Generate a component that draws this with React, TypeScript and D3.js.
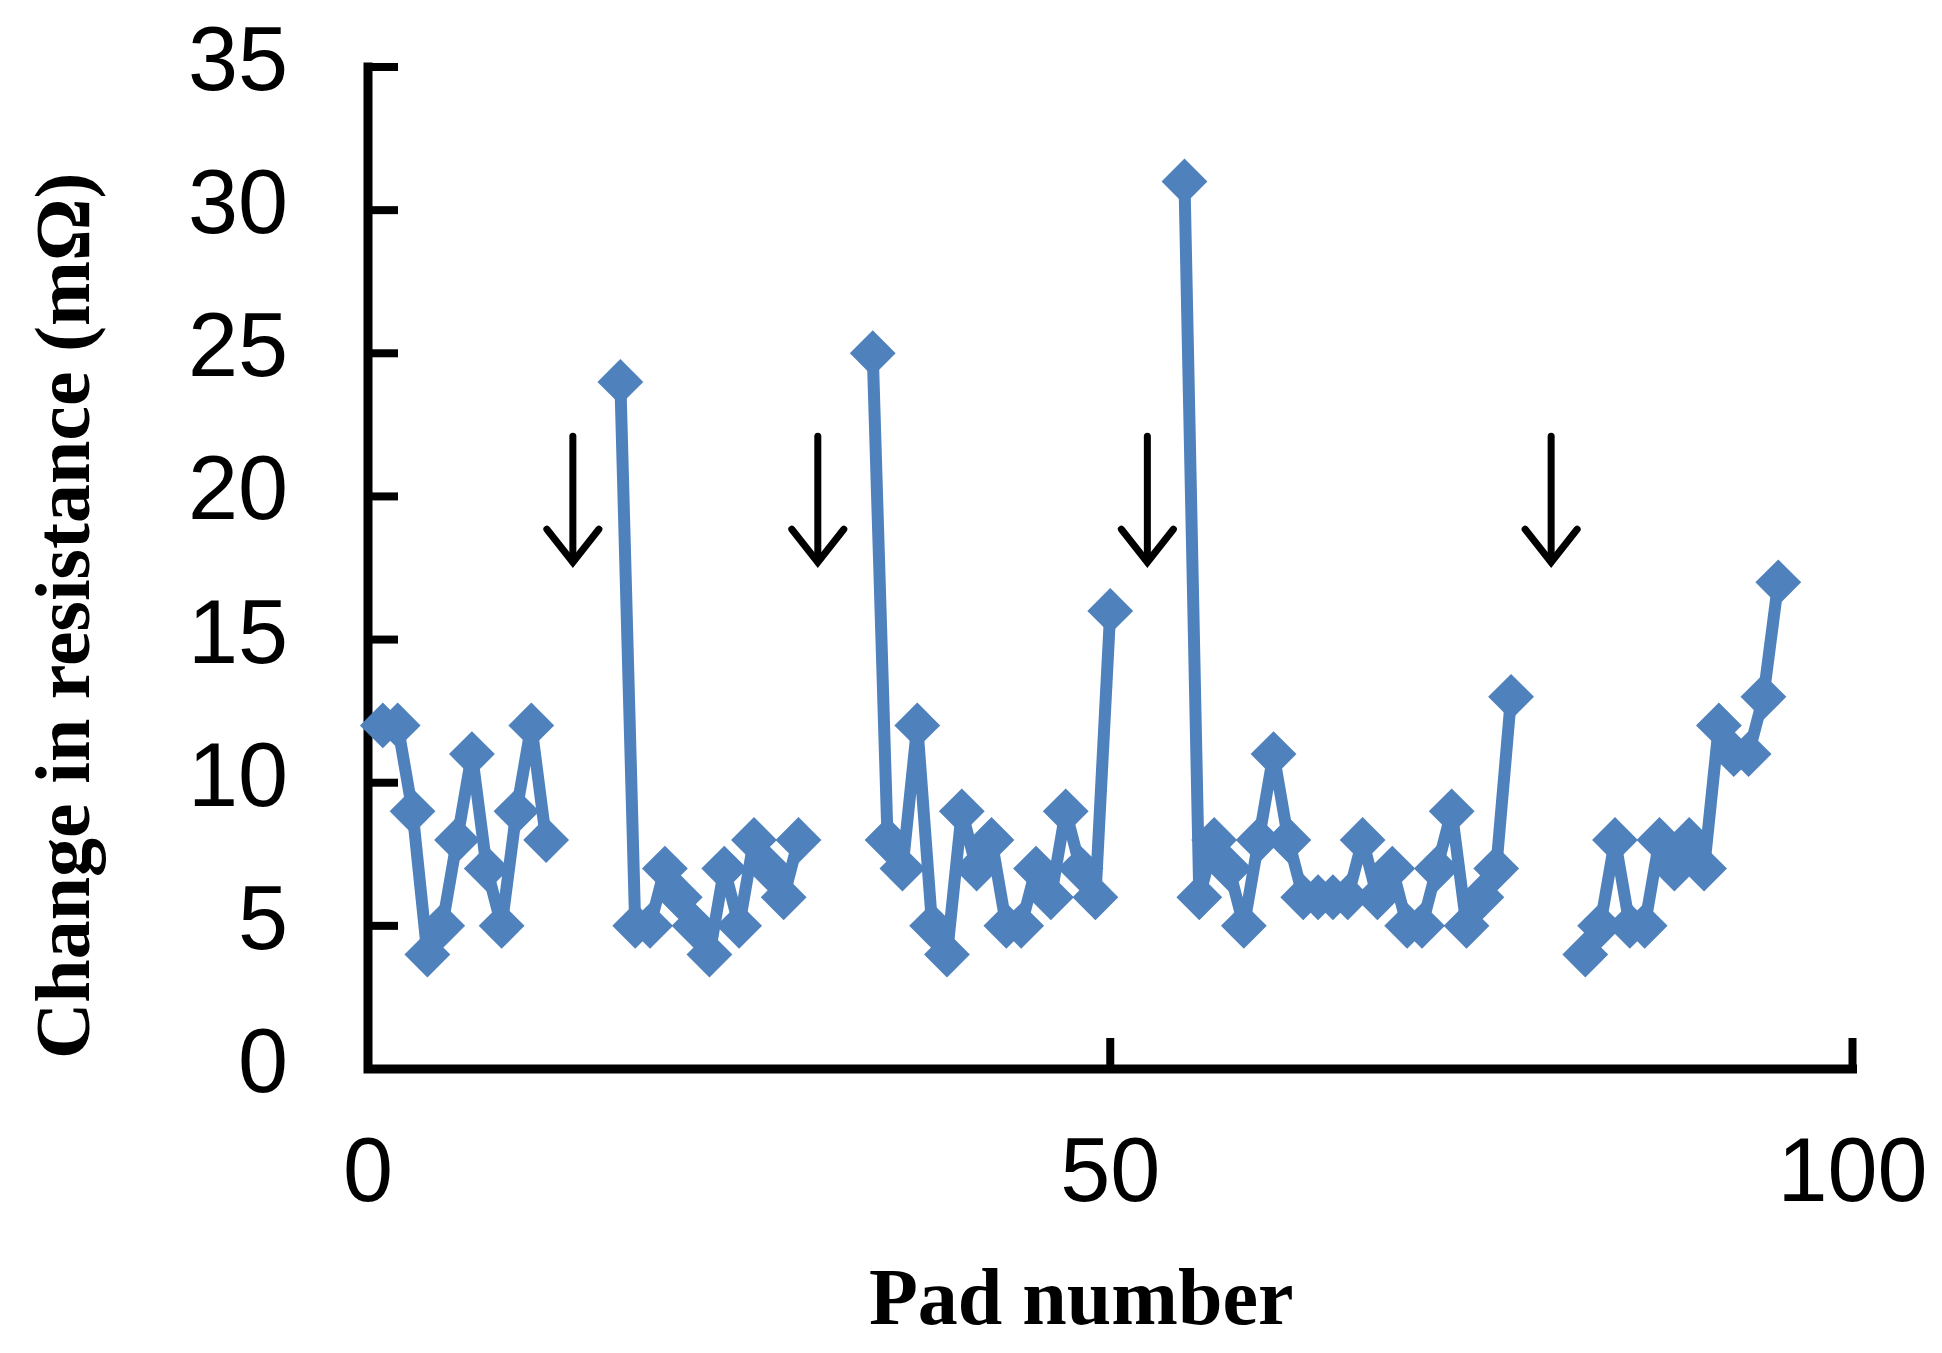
import { useEffect, useRef } from 'react';
import * as d3 from 'd3';

const WIDTH = 1942;
const HEIGHT = 1353;

// --- Data ---
// each run of pads starts at this pad number, gaps between runs are unmeasured pads
const segmentStarts = [1, 17, 34, 55, 82];
const segment1 = [12, 12, 9, 4, 5, 8, 11, 7, 5, 9, 12, 8];
const segment2 = [24, 5, 5, 7, 6, 5, 4, 7, 5, 8, 7, 6, 8];
const segment3 = [25, 8, 7, 12, 5, 4, 9, 7, 8, 5, 5, 7, 6, 9, 7, 6, 16];
const segment4 = [31, 6, 8, 7, 5, 8, 11, 8, 6, 6, 6, 6, 8, 6, 7, 5, 5, 7, 9, 5, 6, 7, 13];
const segment5 = [4, 5, 8, 5, 5, 8, 7, 8, 7, 12, 11, 11, 13, 17];
const segments = [segment1, segment2, segment3, segment4, segment5];

const xTicks = [0, 50, 100];
const yTicks = [0, 5, 10, 15, 20, 25, 30, 35];

// down arrows marking the gaps
const arrowPads = [13.8, 30.3, 52.5, 79.7];
const arrowTop = 22.1;
const arrowTip = 17.7;

const BLUE = '#4f81bd';

function App() {
  const svgRef = useRef(null);

  useEffect(() => {
    const svg = d3.select(svgRef.current);
    svg.selectAll('*').remove();

    const x = d3.scaleLinear().domain([0, 100]).range([368, 1852.5]);
    const y = d3.scaleLinear().domain([0, 35]).range([1069, 67]);

    const series = segments.map((vals, s) =>
      vals.map((v, i) => ({ pad: segmentStarts[s] + i, value: v }))
    );

    // Axes (ticks point inward)
    const axisG = svg.append('g');
    axisG.append('path')
      .attr('d', `M${x(0)},${y(35)}V${y(0)}H${x(100)}`)
      .attr('fill', 'none')
      .attr('stroke', '#000')
      .attr('stroke-width', 9)
      .attr('stroke-linecap', 'square');

    axisG.selectAll('.ytick')
      .data(yTicks.filter(t => t > 0))
      .enter().append('line')
      .attr('x1', x(0)).attr('x2', x(0) + 30)
      .attr('y1', d => y(d)).attr('y2', d => y(d))
      .attr('stroke', '#000').attr('stroke-width', 8);

    axisG.selectAll('.xtick')
      .data(xTicks.filter(t => t > 0))
      .enter().append('line')
      .attr('x1', d => x(d)).attr('x2', d => x(d))
      .attr('y1', y(0)).attr('y2', y(0) - 31)
      .attr('stroke', '#000').attr('stroke-width', 8);

    // Tick labels
    axisG.selectAll('.ylab')
      .data(yTicks)
      .enter().append('text')
      .attr('x', 288)
      .attr('y', d => y(d) + 23)
      .attr('text-anchor', 'end')
      .style('font-family', '"Liberation Sans", Arial, sans-serif')
      .style('font-size', '90px')
      .text(d => d);

    axisG.selectAll('.xlab')
      .data(xTicks)
      .enter().append('text')
      .attr('x', d => x(d))
      .attr('y', 1201)
      .attr('text-anchor', 'middle')
      .style('font-family', '"Liberation Sans", Arial, sans-serif')
      .style('font-size', '90px')
      .text(d => d);

    // Axis titles
    svg.append('text')
      .attr('transform', 'translate(89,1059) rotate(-90)')
      .attr('text-anchor', 'start')
      .style('font-family', '"Liberation Serif", "Times New Roman", serif')
      .style('font-weight', 'bold')
      .style('font-size', '78px')
      .text('Change in resistance (mΩ)');

    svg.append('text')
      .attr('x', 869)
      .attr('y', 1324)
      .style('font-family', '"Liberation Serif", "Times New Roman", serif')
      .style('font-weight', 'bold')
      .style('font-size', '80px')
      .text('Pad number');

    // Arrows
    const arrowG = svg.append('g')
      .attr('stroke', '#000')
      .attr('stroke-width', 7)
      .attr('fill', 'none')
      .attr('stroke-linecap', 'round');
    arrowPads.forEach(p => {
      const ax = x(p);
      const tip = y(arrowTip);
      arrowG.append('line')
        .attr('x1', ax).attr('x2', ax)
        .attr('y1', y(arrowTop)).attr('y2', tip - 3);
      arrowG.append('path')
        .attr('d', `M${ax - 26},${tip - 33}L${ax},${tip}L${ax + 26},${tip - 33}`)
        .attr('stroke-linejoin', 'miter');
    });

    // Series lines
    const line = d3.line()
      .x(d => x(d.pad))
      .y(d => y(d.value));

    const dataG = svg.append('g');
    series.forEach(run => {
      dataG.append('path')
        .datum(run)
        .attr('d', line)
        .attr('fill', 'none')
        .attr('stroke', BLUE)
        .attr('stroke-width', 12)
        .attr('stroke-linejoin', 'round');
    });

    // Diamond markers
    const diamond = d3.symbol().type(d3.symbolSquare).size(1050);
    series.forEach(run => {
      dataG.selectAll(null)
        .data(run)
        .enter().append('path')
        .attr('d', diamond)
        .attr('transform', d => `translate(${x(d.pad)},${y(d.value)}) rotate(45)`)
        .attr('fill', BLUE);
    });
  }, []);

  return (
    <div style={{ position: 'absolute', left: 0, top: 0, width: WIDTH, height: HEIGHT, background: '#fff' }}>
      <svg ref={svgRef} width={WIDTH} height={HEIGHT} style={{ display: 'block' }}></svg>
    </div>
  );
}

export default App;
